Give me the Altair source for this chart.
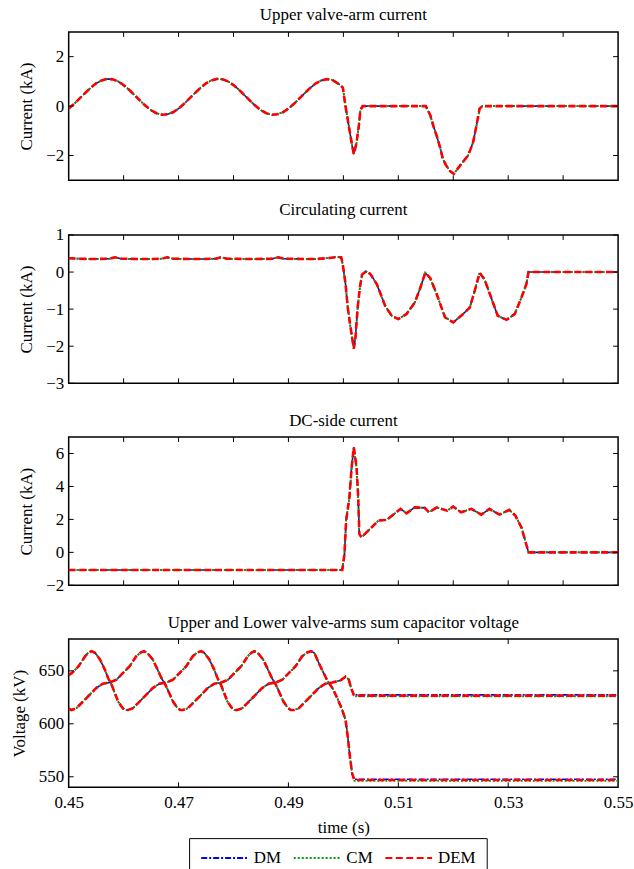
import altair as alt
import pandas as pd

# ---------------- data ----------------
SERIES = ["DM", "CM", "DEM"]
COLORS = ["#0000FF", "#00A000", "#FF0000"]
DASHES = [[6, 2, 2, 2], [2, 2], [7, 3.5]]
WIDTHS = {"DM": 1.6, "CM": 1.8, "DEM": 2.6}

# Panel 1: upper valve-arm current (kA)
t_arm = [0.450, 0.451, 0.452, 0.453, 0.454, 0.455, 0.456, 0.457, 0.458, 0.459,
         0.460, 0.461, 0.462, 0.463, 0.464, 0.465, 0.466, 0.467, 0.468, 0.469,
         0.470, 0.471, 0.472, 0.473, 0.474, 0.475, 0.476, 0.477, 0.478, 0.479,
         0.480, 0.481, 0.482, 0.483, 0.484, 0.485, 0.486, 0.487, 0.488, 0.489,
         0.490, 0.491, 0.492, 0.493, 0.494, 0.495, 0.496, 0.497,
         0.4980, 0.4992, 0.4999, 0.5004, 0.5010, 0.5016, 0.5019, 0.5024, 0.5028, 0.5031, 0.5035,
         0.5150, 0.5158, 0.5164, 0.5170, 0.5176, 0.5181, 0.5187, 0.5194, 0.5201,
         0.5215, 0.5227, 0.5236, 0.5242, 0.5248, 0.5253, 0.5500]
i_arm = [-0.10, 0.09, 0.31, 0.53, 0.74, 0.92, 1.04, 1.10, 1.08, 1.00,
         0.85, 0.66, 0.44, 0.22, 0.01, -0.17, -0.29, -0.35, -0.33, -0.25,
         -0.10, 0.09, 0.31, 0.53, 0.74, 0.92, 1.04, 1.10, 1.08, 1.00,
         0.85, 0.66, 0.44, 0.22, 0.01, -0.17, -0.29, -0.35, -0.33, -0.25,
         -0.10, 0.09, 0.31, 0.53, 0.74, 0.92, 1.04, 1.09,
         1.06, 0.89, 0.75, -0.03, -0.82, -1.61, -1.94, -1.48, -0.82, -0.17, 0.0,
         0.0, -0.36, -0.82, -1.22, -1.67, -2.13, -2.40, -2.63, -2.74,
         -2.33, -2.00, -1.48, -0.82, -0.10, 0.0, 0.0]

# Panel 2: circulating current (kA)
t_circ = [0.4500, 0.4540, 0.4575, 0.4584, 0.4595, 0.4640, 0.4670, 0.4679, 0.4690,
          0.4740, 0.4768, 0.4778, 0.4788, 0.4840, 0.4871, 0.4881, 0.4891,
          0.4950, 0.4975, 0.4985, 0.4996, 0.4999, 0.5004, 0.5008, 0.5013, 0.5019,
          0.5022, 0.5026, 0.5030, 0.5034, 0.5041, 0.5049, 0.5061, 0.5076, 0.5088, 0.5100,
          0.5115, 0.5130, 0.5139, 0.5149, 0.5158, 0.5170, 0.5185, 0.5200, 0.5218, 0.5230,
          0.5239, 0.5248, 0.5257, 0.5269, 0.5281, 0.5297, 0.5312, 0.5324, 0.5333, 0.5337, 0.5500]
i_circ = [0.37, 0.35, 0.36, 0.40, 0.36, 0.35, 0.36, 0.40, 0.36,
          0.35, 0.36, 0.40, 0.36, 0.35, 0.36, 0.40, 0.36,
          0.35, 0.38, 0.40, 0.40, 0.20, -0.33, -0.96, -1.49, -2.07,
          -1.76, -0.96, -0.42, -0.07, 0.02, -0.05, -0.33, -0.91, -1.18, -1.27,
          -1.13, -0.82, -0.47, -0.02, -0.16, -0.60, -1.22, -1.36, -1.13, -0.96,
          -0.51, -0.02, -0.20, -0.69, -1.18, -1.29, -1.13, -0.69, -0.33, 0.0, 0.0]

# Panel 3: DC-side current (kA)
t_dc = [0.4500, 0.4998, 0.5002, 0.5005, 0.5011, 0.5015, 0.5019, 0.5024, 0.5027, 0.5029,
        0.5033, 0.5042, 0.5064, 0.5079, 0.5104, 0.5115, 0.5130, 0.5148, 0.5156, 0.5170,
        0.5189, 0.5200, 0.5214, 0.5233, 0.5251, 0.5266, 0.5284, 0.5302, 0.5313, 0.5324,
        0.5331, 0.5337, 0.5500]
i_dc = [-1.07, -1.07, -0.10, 1.93, 3.34, 5.16, 6.38, 5.16, 3.34, 1.12,
        0.91, 1.21, 1.93, 1.97, 2.64, 2.37, 2.73, 2.70, 2.43, 2.73,
        2.53, 2.78, 2.43, 2.64, 2.29, 2.64, 2.29, 2.58, 2.23, 1.52,
        0.71, 0.0, 0.0]

# Panel 4: sum capacitor voltage (kV), two arms
t_va = [0.4500, 0.4506, 0.4518, 0.4530, 0.4536, 0.4542,
        0.4548, 0.4557, 0.4566, 0.4572, 0.4578, 0.4584, 0.4590, 0.4597, 0.4602, 0.4608,
        0.4617, 0.4629, 0.4641, 0.4653, 0.4665, 0.4678, 0.4690, 0.4702, 0.4714, 0.4726, 0.4734, 0.4741,
        0.4747, 0.4756, 0.4765, 0.4771, 0.4777, 0.4783, 0.4789, 0.4796, 0.4801, 0.4807,
        0.4816, 0.4828, 0.4840, 0.4852, 0.4864, 0.4877, 0.4889, 0.4901, 0.4913, 0.4925, 0.4934, 0.4941,
        0.4947, 0.4958, 0.4970, 0.4980, 0.4989, 0.4998, 0.5004, 0.5008, 0.5012, 0.5016, 0.5020, 0.5500]
v_va = [646, 648, 654.3, 663.8, 667.3, 668.5,
        667, 660.7, 651, 643, 637, 629, 621, 615.6, 613, 613,
        614.7, 621, 627.3, 633.7, 637.8, 639, 641.6, 648, 654.3, 663.8, 667.3, 668.5,
        667, 660.7, 651, 643, 637, 629, 621, 615.6, 613, 613,
        614.7, 621, 627.3, 633.7, 637.8, 639, 641.6, 648, 654.3, 663.8, 667.3, 668.5,
        667, 654.3, 641.6, 633.7, 624.2, 613, 603.5, 587.6, 568.6, 552.8, 547, 547]
t_vb = [0.4500, 0.4505, 0.4514, 0.4526, 0.4538, 0.4550, 0.4562, 0.4575, 0.4587, 0.4599, 0.4611, 0.4623, 0.4631, 0.4637,
        0.4643, 0.4653, 0.4662, 0.4669, 0.4676, 0.4683, 0.4690, 0.4697, 0.4703, 0.4708,
        0.4717, 0.4729, 0.4741, 0.4753, 0.4765, 0.4778, 0.4790, 0.4802, 0.4814, 0.4826, 0.4833, 0.4838,
        0.4844, 0.4854, 0.4863, 0.4870, 0.4877, 0.4884, 0.4891, 0.4898, 0.4904, 0.4910,
        0.4919, 0.4931, 0.4943, 0.4955, 0.4967, 0.4980, 0.4995, 0.5004, 0.5010, 0.5014, 0.5019, 0.5023, 0.5500]
v_vb = [614.3, 613, 614.7, 621, 627.3, 633.7, 637.8, 639, 641.6, 648, 654.3, 663.8, 667.3, 668.5,
        667, 660.7, 651, 643, 637, 629, 621, 615.6, 613, 613,
        614.7, 621, 627.3, 633.7, 637.8, 639, 641.6, 648, 654.3, 663.8, 667.3, 668.5,
        667, 660.7, 651, 643, 637, 629, 621, 615.6, 613, 613,
        614.7, 621, 627.3, 633.7, 637.8, 639, 641, 644.5, 641.6, 633.7, 627.3, 626.6, 626.6]
# post-fault levels, slightly different per model
END_UPPER = {"DM": 627.3, "CM": 625.8, "DEM": 626.6}
END_LOWER = {"DM": 547.6, "CM": 546.2, "DEM": 547.0}

X_LABELS = [0.45, 0.47, 0.49, 0.51, 0.53, 0.55]
X_MINOR = [0.46, 0.47, 0.48, 0.49, 0.50, 0.51, 0.52, 0.53, 0.54]
X_MAJOR_IN = [0.47, 0.49, 0.51, 0.53]

W, H = 552, 149
FONT = "Liberation Serif"


def frame(t, v, curve="a", tail=None):
    rows = []
    for s in SERIES:
        vals = list(v)
        if tail is not None:
            vals[-2:] = [tail[s], tail[s]]
        for ti, vi in zip(t, vals):
            rows.append({"t": ti, "v": vi, "series": s, "curve": curve})
    return rows


df1 = pd.DataFrame(frame(t_arm, i_arm))
df2 = pd.DataFrame(frame(t_circ, i_circ))
df3 = pd.DataFrame(frame(t_dc, i_dc))
df4 = pd.DataFrame(frame(t_va, v_va, "a", END_LOWER) + frame(t_vb, v_vb, "b", END_UPPER))

color_scale = alt.Scale(domain=SERIES, range=COLORS)
dash_scale = alt.Scale(domain=SERIES, range=DASHES)


def panel(df, title, y_dom, y_ticks, y_title, x_in, bottom=False):
    if bottom:
        x_axis = alt.Axis(values=X_LABELS, format=".2f", labelFlush=False, labelPadding=7,
                          title="time (s)", titlePadding=9)
        legend = alt.Legend(orient="none", legendX=121, legendY=200, direction="horizontal",
                            title=None, symbolType="M-1,0H5", symbolSize=245,
                            symbolStrokeWidth=2, labelFont=FONT, labelFontSize=17,
                            labelColor="black", labelOffset=36, columnPadding=8,
                            padding=11, strokeColor="black", fillColor="white",
                            cornerRadius=0)
    else:
        x_axis = None
        legend = None
    x = alt.X("t:Q", scale=alt.Scale(domain=[0.45, 0.55], nice=False, zero=False), axis=x_axis)
    y = alt.Y("v:Q", scale=alt.Scale(domain=y_dom, nice=False, zero=False),
              axis=alt.Axis(values=y_ticks, title=y_title, labelPadding=5, titlePadding=10))
    layers = []
    for s in SERIES:
        layers.append(
            alt.Chart(df).transform_filter(alt.datum.series == s)
            .mark_line(strokeWidth=WIDTHS[s], clip=True)
            .encode(x=x, y=y,
                    color=alt.Color("series:N", scale=color_scale, legend=legend),
                    strokeDash=alt.StrokeDash("series:N", scale=dash_scale, legend=legend),
                    detail="curve:N")
        )
    xt = pd.DataFrame({"t": x_in})
    yt = pd.DataFrame({"v": y_ticks})
    rule = dict(color="black", strokeWidth=1)
    layers.append(alt.Chart(xt).mark_rule(**rule).encode(x=x, y=alt.value(0), y2=alt.value(5)))
    layers.append(alt.Chart(xt).mark_rule(**rule).encode(x=x, y=alt.value(H), y2=alt.value(H - 5)))
    layers.append(alt.Chart(yt).mark_rule(**rule).encode(y=y, x=alt.value(0), x2=alt.value(5)))
    layers.append(alt.Chart(yt).mark_rule(**rule).encode(y=y, x=alt.value(W), x2=alt.value(W - 5)))
    return alt.layer(*layers).properties(
        width=W, height=H,
        title=alt.TitleParams(title, font=FONT, fontSize=17, fontWeight="normal",
                              color="black", offset=7),
    )


p1 = panel(df1, "Upper valve-arm current", [-3, 3], [-2, 0, 2], "Current (kA)", X_MINOR)
p2 = panel(df2, "Circulating current", [-3, 1], [-3, -2, -1, 0, 1], "Current (kA)", X_MINOR)
p3 = panel(df3, "DC-side current", [-2, 7], [-2, 0, 2, 4, 6], "Current (kA)", X_MINOR)
p4 = panel(df4, "Upper and Lower valve-arms sum capacitor voltage", [540, 680],
           [550, 600, 650], "Voltage (kV)", X_MAJOR_IN, bottom=True)

chart = (
    alt.vconcat(p1, p2, p3, p4, spacing=18)
    .resolve_scale(color="independent", strokeDash="independent")
    .properties(padding={"left": 9, "top": 3, "right": 0, "bottom": 0}, background="white")
    .configure_view(stroke="black", strokeWidth=1.5)
    .configure_axis(labelFont=FONT, labelFontSize=17, titleFont=FONT, titleFontSize=17,
                    titleFontWeight="normal", labelColor="black", titleColor="black",
                    grid=False, ticks=False, domain=False)
)

chart.save("out.html", embed_options={"renderer": "svg", "actions": False})
